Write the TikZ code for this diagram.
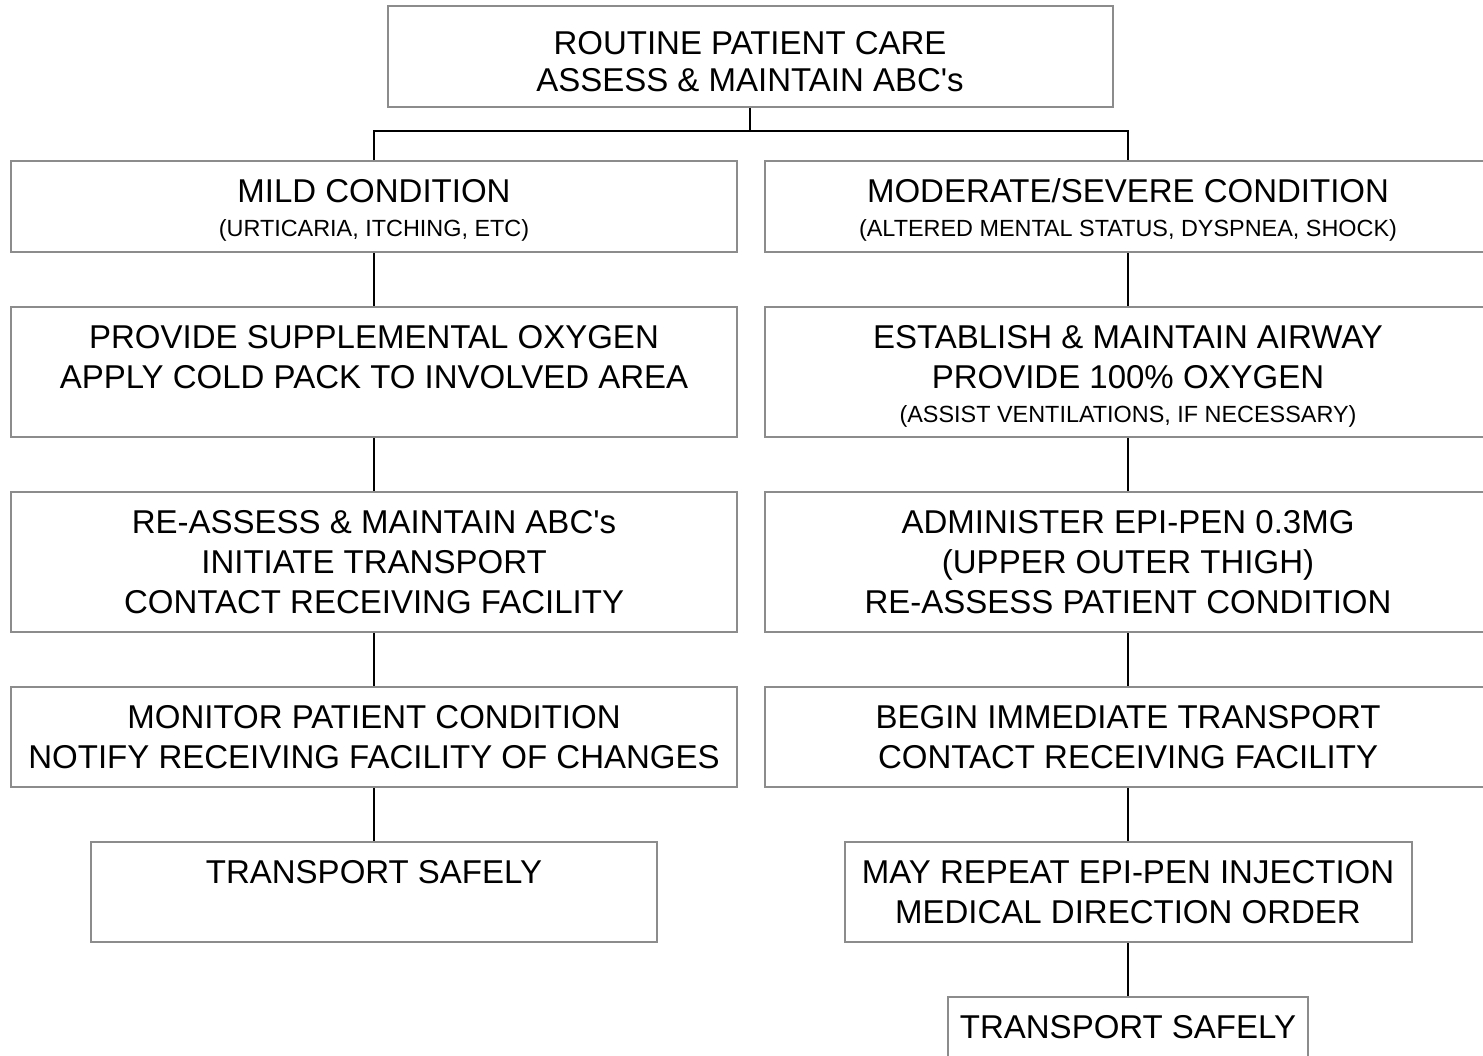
\documentclass[tikz,border=0pt]{standalone}
\usepackage{fontspec}
\setmainfont{Liberation Sans}
\usetikzlibrary{positioning}

\newcommand{\bigfont}{\fontsize{16.5}{20}\selectfont}
\newcommand{\notefont}{\fontsize{11.7}{17}\selectfont}
\newcommand{\txtline}[1]{{\bigfont\strut #1\par}}
\newcommand{\subline}[1]{{\notefont\strut #1\par}}
\newcommand{\cellbox}[4][6.5pt]{\parbox[c][#3][t]{#2}{\centering\parskip=0pt\lineskiplimit=-20pt\vspace*{#1}#4}}

\begin{document}
\begin{tikzpicture}[x = 0.5pt, y = -0.5pt,
	careblock/.style = {draw = gray!90, line width = 1pt, inner sep = 0pt, anchor = north},
	wire/.style = {line width = 0.9pt}]

	\clip (0, 0) rectangle (1483, 1055);

	% Top box

	\node [careblock] (care) at (750, 5) {\cellbox[11pt]{362.5pt}{50.5pt}{\fontsize{16.5}{18.7}\selectfont\strut ROUTINE PATIENT CARE\\\strut ASSESS \& MAINTAIN ABC\textquotesingle s}};

	% Mild column

	\node [careblock] (mild) at (374, 160) {\cellbox{363pt}{45.5pt}{\txtline{MILD CONDITION}\subline{(URTICARIA, ITCHING, ETC)}}};
	\node [careblock] (mildoxy) at (374, 306) {\cellbox{363pt}{65pt}{\txtline{PROVIDE SUPPLEMENTAL OXYGEN}\txtline{APPLY COLD PACK TO INVOLVED AREA}}};
	\node [careblock] (mildabc) at (374, 491) {\cellbox{363pt}{70pt}{\txtline{RE-ASSESS \& MAINTAIN ABC\textquotesingle s}\txtline{INITIATE TRANSPORT}\txtline{CONTACT RECEIVING FACILITY}}};
	\node [careblock] (mildwatch) at (374, 686) {\cellbox{363pt}{50pt}{\txtline{MONITOR PATIENT CONDITION}\txtline{NOTIFY RECEIVING FACILITY OF CHANGES}}};
	\node [careblock] (mildgo) at (374, 841) {\cellbox{283pt}{50pt}{\txtline{TRANSPORT SAFELY}}};

	% Moderate/severe column

	\node [careblock] (severe) at (1128, 160) {\cellbox{363pt}{45.5pt}{\txtline{MODERATE/SEVERE CONDITION}\subline{(ALTERED MENTAL STATUS, DYSPNEA, SHOCK)}}};
	\node [careblock] (sevair) at (1128, 306) {\cellbox{363pt}{65pt}{\txtline{ESTABLISH \& MAINTAIN AIRWAY}\txtline{PROVIDE 100\% OXYGEN}\subline{(ASSIST VENTILATIONS, IF NECESSARY)}}};
	\node [careblock] (sevepi) at (1128, 491) {\cellbox{363pt}{70pt}{\txtline{ADMINISTER EPI-PEN 0.3MG}\txtline{(UPPER OUTER THIGH)}\txtline{RE-ASSESS PATIENT CONDITION}}};
	\node [careblock] (sevgo) at (1128, 686) {\cellbox{363pt}{50pt}{\txtline{BEGIN IMMEDIATE TRANSPORT}\txtline{CONTACT RECEIVING FACILITY}}};
	\node [careblock] (sevrepeat) at (1128, 841) {\cellbox{283.5pt}{50pt}{\txtline{MAY REPEAT EPI-PEN INJECTION}\txtline{MEDICAL DIRECTION ORDER}}};
	\node [careblock] (sevsafe) at (1128, 996) {\cellbox{180pt}{50pt}{\txtline{TRANSPORT SAFELY}}};

	% Connectors

	\coordinate (bus) at (750, 131);
	\draw [wire] (care.south) -- (bus);
	\draw [wire] (mild.north) |- (bus) -| (severe.north);

	\foreach \a/\b in {mild/mildoxy, mildoxy/mildabc, mildabc/mildwatch, mildwatch/mildgo,
		severe/sevair, sevair/sevepi, sevepi/sevgo, sevgo/sevrepeat, sevrepeat/sevsafe}
		\draw [wire] (\a.south) -- (\b.north);

\end{tikzpicture}
\end{document}
